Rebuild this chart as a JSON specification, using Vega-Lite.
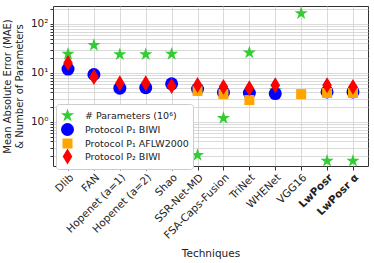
{
  "$schema": "https://vega.github.io/schema/vega-lite/v6.json",
  "width": 315,
  "height": 160,
  "autosize": {"type": "none"},
  "padding": {"left": 53, "top": 6, "right": 6, "bottom": 97},
  "background": "white",
  "config": {
    "font": "DejaVu Sans",
    "view": {"stroke": "#333333", "strokeWidth": 1},
    "axis": {"gridColor": "#d0d0d0", "gridWidth": 0.8, "tickColor": "#333333", "domain": false, "labelColor": "#222222", "titleColor": "#222222", "titleFontWeight": "normal"}
  },
  "data": {
    "values": [
      {"t": "Dlib", "s": "# Parameters (10⁶)", "v": 24.4},
      {"t": "FAN", "s": "# Parameters (10⁶)", "v": 37},
      {"t": "Hopenet (a=1)", "s": "# Parameters (10⁶)", "v": 23.9},
      {"t": "Hopenet (a=2)", "s": "# Parameters (10⁶)", "v": 23.9},
      {"t": "Shao", "s": "# Parameters (10⁶)", "v": 24.4},
      {"t": "SSR-Net-MD", "s": "# Parameters (10⁶)", "v": 0.21},
      {"t": "FSA-Caps-Fusion", "s": "# Parameters (10⁶)", "v": 1.2},
      {"t": "TriNet", "s": "# Parameters (10⁶)", "v": 26},
      {"t": "WHENet", "s": "# Parameters (10⁶)", "v": 4.4},
      {"t": "VGG16", "s": "# Parameters (10⁶)", "v": 165},
      {"t": "LwPosr", "s": "# Parameters (10⁶)", "v": 0.16},
      {"t": "LwPosr α", "s": "# Parameters (10⁶)", "v": 0.16},
      {"t": "Dlib", "s": "Protocol P₁ BIWI", "v": 12.0},
      {"t": "FAN", "s": "Protocol P₁ BIWI", "v": 9.3},
      {"t": "Hopenet (a=1)", "s": "Protocol P₁ BIWI", "v": 4.9},
      {"t": "Hopenet (a=2)", "s": "Protocol P₁ BIWI", "v": 5.0},
      {"t": "Shao", "s": "Protocol P₁ BIWI", "v": 6.0},
      {"t": "SSR-Net-MD", "s": "Protocol P₁ BIWI", "v": 4.7},
      {"t": "FSA-Caps-Fusion", "s": "Protocol P₁ BIWI", "v": 4.0},
      {"t": "TriNet", "s": "Protocol P₁ BIWI", "v": 3.9},
      {"t": "WHENet", "s": "Protocol P₁ BIWI", "v": 3.8},
      {"t": "LwPosr", "s": "Protocol P₁ BIWI", "v": 4.1},
      {"t": "LwPosr α", "s": "Protocol P₁ BIWI", "v": 4.1},
      {"t": "SSR-Net-MD", "s": "Protocol P₁ AFLW2000", "v": 4.3},
      {"t": "FSA-Caps-Fusion", "s": "Protocol P₁ AFLW2000", "v": 3.7},
      {"t": "TriNet", "s": "Protocol P₁ AFLW2000", "v": 2.8},
      {"t": "VGG16", "s": "Protocol P₁ AFLW2000", "v": 3.7},
      {"t": "LwPosr", "s": "Protocol P₁ AFLW2000", "v": 3.9},
      {"t": "LwPosr α", "s": "Protocol P₁ AFLW2000", "v": 3.9},
      {"t": "Dlib", "s": "Protocol P₂ BIWI", "v": 16.0},
      {"t": "FAN", "s": "Protocol P₂ BIWI", "v": 8.3},
      {"t": "Hopenet (a=1)", "s": "Protocol P₂ BIWI", "v": 6.2},
      {"t": "Hopenet (a=2)", "s": "Protocol P₂ BIWI", "v": 6.2},
      {"t": "Shao", "s": "Protocol P₂ BIWI", "v": 5.4},
      {"t": "SSR-Net-MD", "s": "Protocol P₂ BIWI", "v": 5.7},
      {"t": "FSA-Caps-Fusion", "s": "Protocol P₂ BIWI", "v": 5.2},
      {"t": "TriNet", "s": "Protocol P₂ BIWI", "v": 4.9},
      {"t": "WHENet", "s": "Protocol P₂ BIWI", "v": 5.6},
      {"t": "LwPosr", "s": "Protocol P₂ BIWI", "v": 5.6},
      {"t": "LwPosr α", "s": "Protocol P₂ BIWI", "v": 5.2}
    ]
  },
  "mark": {"type": "point", "filled": true, "opacity": 1, "size": 169},
  "encoding": {
    "x": {
      "field": "t",
      "type": "nominal",
      "sort": null,
      "scale": {"type": "point", "padding": 0.58, "domain": ["Dlib", "FAN", "Hopenet (a=1)", "Hopenet (a=2)", "Shao", "SSR-Net-MD", "FSA-Caps-Fusion", "TriNet", "WHENet", "VGG16", "LwPosr", "LwPosr α"]},
      "axis": {
        "title": "Techniques",
        "titleFontSize": 10.5,
        "titlePadding": 8,
        "labelAngle": -45,
        "labelFontSize": 10.5,
        "labelPadding": 2,
        "tickSize": 4,
        "grid": true,
        "labelFontWeight": {"condition": {"test": "indexof(datum.value, 'LwPosr') == 0", "value": "bold"}, "value": "normal"}
      }
    },
    "y": {
      "field": "v",
      "type": "quantitative",
      "scale": {"type": "log", "domain": [0.126, 233], "nice": false},
      "axis": {
        "title": ["Mean Absolute Error (MAE)", "& Number of Parameters"],
        "titleFontSize": 10,
        "titlePadding": 6,
        "labelFontSize": 10.5,
        "tickSize": 3,
        "grid": true,
        "values": [0.2, 0.3, 0.4, 0.5, 0.6, 0.7, 0.8, 0.9, 1, 2, 3, 4, 5, 6, 7, 8, 9, 10, 20, 30, 40, 50, 60, 70, 80, 90, 100, 200],
        "labelExpr": "datum.value == 1 ? '10⁰' : datum.value == 10 ? '10¹' : datum.value == 100 ? '10²' : ''"
      }
    },
    "color": {
      "field": "s",
      "type": "nominal",
      "scale": {
        "domain": ["# Parameters (10⁶)", "Protocol P₁ BIWI", "Protocol P₁ AFLW2000", "Protocol P₂ BIWI"],
        "range": ["#32CD32", "#0000FF", "#FFA500", "#FF0000"]
      },
      "legend": {
        "title": null,
        "orient": "none",
        "legendX": 3,
        "legendY": 98,
        "labelFontSize": 9.5,
        "labelOffset": 10,
        "labelColor": "#222222",
        "fillColor": "white",
        "strokeColor": "#cccccc",
        "cornerRadius": 3,
        "padding": 4,
        "rowPadding": -8,
        "symbolSize": 169,
        "symbolOpacity": 1
      }
    },
    "shape": {
      "field": "s",
      "type": "nominal",
      "scale": {
        "domain": ["# Parameters (10⁶)", "Protocol P₁ BIWI", "Protocol P₁ AFLW2000", "Protocol P₂ BIWI"],
        "range": ["M0,-1.077L0.242,-0.333L1.024,-0.333L0.391,0.127L0.633,0.871L0,0.411L-0.633,0.871L-0.391,0.127L-1.024,-0.333L-0.242,-0.333Z", "circle", "M-0.77,-0.77L0.77,-0.77L0.77,0.77L-0.77,0.77Z", "M0,-1.23L0.74,0L0,1.23L-0.74,0Z"]
      },
      "legend": null
    }
  }
}
